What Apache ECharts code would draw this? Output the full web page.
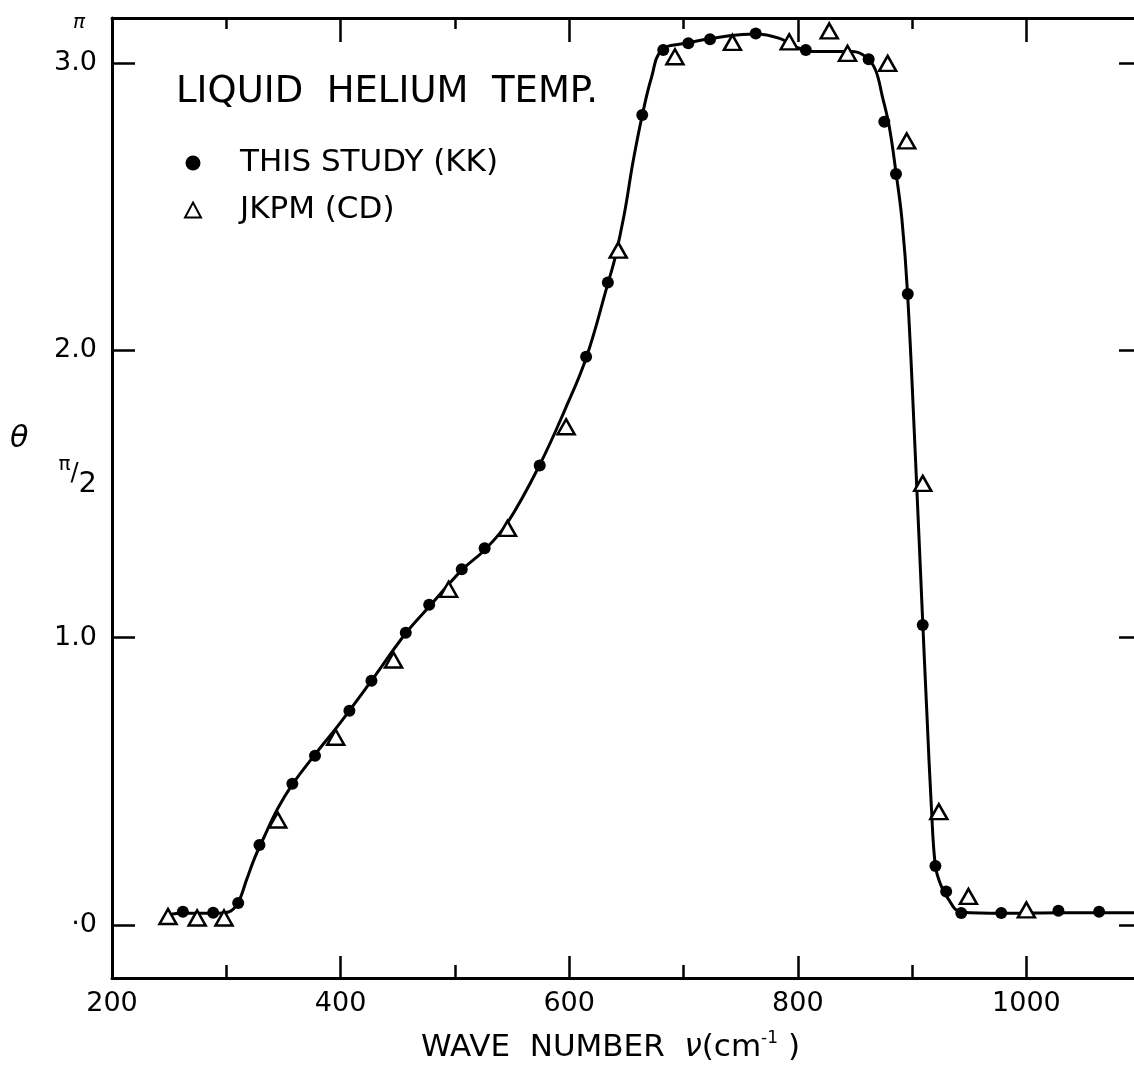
<!DOCTYPE html>
<html>
<head>
<meta charset="utf-8">
<script src="https://cdn.jsdelivr.net/npm/echarts@6/dist/echarts.min.js"></script>
<style>
html,body{margin:0;padding:0;background:#fff;}
#c{width:1134px;height:1071px;}
</style>
</head>
<body>
<div id="c"></div>
<script>
// ---- data ----
const kkX = [262, 288.5, 310.4, 329, 357.8, 377.6, 407.7, 427, 457, 477.5, 506, 526, 574.2, 614.8, 633.8, 663.9, 682.3, 704.2, 723.2, 763.2, 807, 862, 875.7, 885.9, 896.2, 909.3, 920.4, 929.8, 943, 978, 1028, 1063.6];
const kkY = [0.046, 0.042, 0.076, 0.278, 0.491, 0.589, 0.745, 0.85, 1.017, 1.114, 1.238, 1.311, 1.599, 1.978, 2.236, 2.819, 3.046, 3.069, 3.083, 3.103, 3.046, 3.013, 2.796, 2.614, 2.196, 1.044, 0.205, 0.116, 0.041, 0.041, 0.049, 0.046];

const jkX = [249, 274.5, 298, 345, 395.7, 446.3, 494.5, 546, 597.3, 642.9, 692.5, 742.8, 792.5, 827.5, 843.5, 878.6, 895.3, 909.3, 923.4, 949.3, 1000];
const jkY = [0.029, 0.024, 0.024, 0.365, 0.653, 0.922, 1.168, 1.38, 1.734, 2.349, 3.022, 3.072, 3.074, 3.112, 3.034, 2.999, 2.729, 1.537, 0.394, 0.099, 0.052];

// points
const curveX = [249, 262, 289, 302, 310, 318, 325, 333, 345, 358, 378, 400, 427, 457, 478, 506, 526, 546, 574, 597, 615, 634, 640, 648, 656, 664, 672, 681, 702, 740, 763, 784, 798, 813, 848, 860, 868, 874, 880, 886, 891, 896, 903, 909, 913, 917, 920.4, 925, 930, 943, 980, 1030, 1100];
const curveY = [0.035, 0.04, 0.04, 0.045, 0.075, 0.16, 0.235, 0.305, 0.405, 0.49, 0.595, 0.705, 0.85, 1.015, 1.11, 1.235, 1.305, 1.4, 1.6, 1.8, 1.975, 2.235, 2.32, 2.47, 2.66, 2.82, 2.95, 3.045, 3.069, 3.095, 3.101, 3.086, 3.057, 3.04, 3.04, 3.02, 2.976, 2.883, 2.779, 2.616, 2.46, 2.2, 1.62, 1.08, 0.73, 0.4, 0.205, 0.14, 0.1, 0.045, 0.04, 0.042, 0.042];

const yTickValues = [0, 1, 2, 3];
const yLabelValues = [0, 1, 2, 3, Math.PI / 2, Math.PI];

const titleText = 'LIQUID  HELIUM  TEMP.';
const kkName = 'THIS STUDY (KK)';
const jkName = 'JKPM (CD)';

// ---- chart ----
const FONT = 'DejaVu Sans';
const chart = echarts.init(document.getElementById('c'), null, {renderer: 'canvas'});

function yLabel(v) {
  if (Math.abs(v - Math.PI) < 1e-6) return '{pi|π}';
  if (Math.abs(v - Math.PI / 2) < 1e-6) return '{a|π}{b|/}{c|2}';
  if (v === 0) return '·0';
  return v.toFixed(1);
}

const axisLineStyle = {color: '#000', width: 3};

chart.setOption({
  backgroundColor: '#fff',
  animation: false,
  textStyle: {fontFamily: FONT, color: '#000'},
  title: {
    text: titleText,
    left: 176, top: 73, padding: 0,
    textStyle: {fontFamily: FONT, fontSize: 37, fontWeight: 'normal', color: '#000', lineHeight: 38}
  },
  legend: {
    data: [{name: kkName}, {name: jkName}],
    orient: 'vertical',
    left: 184, top: 147, padding: 0,
    itemWidth: 16, itemHeight: 15, itemGap: 15,
    selectedMode: false,
    itemStyle: {opacity: 1},
    textStyle: {fontFamily: FONT, fontSize: 31, color: '#000', lineHeight: 32, padding: [0, 0, 0, 34]}
  },
  graphic: [{
    type: 'text', left: 10, top: 424,
    style: {text: 'θ', font: 'italic 30px "DejaVu Sans"', fill: '#000'}
  }],
  grid: {left: 112, top: 18, width: 1143, height: 960, outerBoundsMode: 'none', containLabel: false},
  xAxis: [{
    type: 'value', min: 200, max: 1200, interval: 200, position: 'bottom',
    axisLine: {onZero: false, lineStyle: axisLineStyle},
    axisTick: {inside: true, length: 22, lineStyle: {color: '#000', width: 2.5}},
    minorTick: {show: true, splitNumber: 2, length: 13, lineStyle: {color: '#000', width: 2.5}},
    axisLabel: {fontFamily: FONT, fontSize: 27, color: '#000', margin: 12, formatter: v => String(v)},
    splitLine: {show: false},
    name: '{t|WAVE  NUMBER  }{nu|ν}{t|(cm}{s|-1}{t| )}',
    nameLocation: 'middle', nameGap: 52,
    nameTextStyle: {
      padding: [0, 146, 0, 0],
      rich: {
        t: {fontFamily: FONT, fontSize: 31, color: '#000'},
        nu: {fontFamily: FONT, fontSize: 31, fontStyle: 'italic', color: '#000'},
        s: {fontFamily: FONT, fontSize: 17, color: '#000', padding: [0, 0, 18, 0]}
      }
    }
  }, {
    type: 'value', min: 200, max: 1200, interval: 200, position: 'top',
    axisLine: {onZero: false, lineStyle: axisLineStyle},
    axisTick: {inside: true, length: 24, lineStyle: {color: '#000', width: 2.5}},
    minorTick: {show: true, splitNumber: 2, length: 11, lineStyle: {color: '#000', width: 2.5}},
    axisLabel: {show: false},
    splitLine: {show: false}
  }],
  yAxis: [{
    type: 'value', min: -0.185, max: 3.157, position: 'left',
    axisLine: {onZero: false, lineStyle: axisLineStyle},
    axisTick: {inside: true, length: 23, customValues: yTickValues, lineStyle: {color: '#000', width: 2.5}},
    axisLabel: {
      customValues: yLabelValues, formatter: yLabel, margin: 15,
      fontFamily: FONT, fontSize: 27, color: '#000',
      rich: {
        pi: {fontFamily: FONT, fontSize: 20, fontStyle: 'italic', color: '#000', padding: [0, 12, 0, 0]},
        a: {fontFamily: FONT, fontSize: 20, color: '#000', padding: [0, 0, 18, 0]},
        b: {fontFamily: FONT, fontSize: 24, color: '#000'},
        c: {fontFamily: FONT, fontSize: 29, color: '#000', padding: [22, 0, 0, 0]}
      }
    },
    splitLine: {show: false}
  }, {
    type: 'value', min: -0.185, max: 3.157, position: 'right', offset: -114,
    axisLine: {show: false, onZero: false},
    axisTick: {inside: true, length: 22, customValues: yTickValues, lineStyle: {color: '#000', width: 2.5}},
    axisLabel: {show: false},
    splitLine: {show: false}
  }],
  series: [{
    name: 'curve', type: 'line',
    data: curveX.map((x, i) => [x, curveY[i]]),
    smooth: 0.4,
    showSymbol: false, symbol: 'none',
    lineStyle: {color: '#000', width: 3},
    silent: true, z: 2
  }, {
    name: kkName, type: 'scatter',
    data: kkX.map((x, i) => [x, kkY[i]]),
    symbol: 'circle', symbolSize: 12,
    itemStyle: {color: '#000', opacity: 1},
    z: 3
  }, {
    name: jkName, type: 'scatter',
    data: jkX.map((x, i) => [x, jkY[i]]),
    symbol: 'triangle', symbolSize: [17, 15],
    itemStyle: {color: '#fff', borderColor: '#000', borderWidth: 2.5, opacity: 1},
    z: 4
  }]
});
</script>
</body>
</html>
